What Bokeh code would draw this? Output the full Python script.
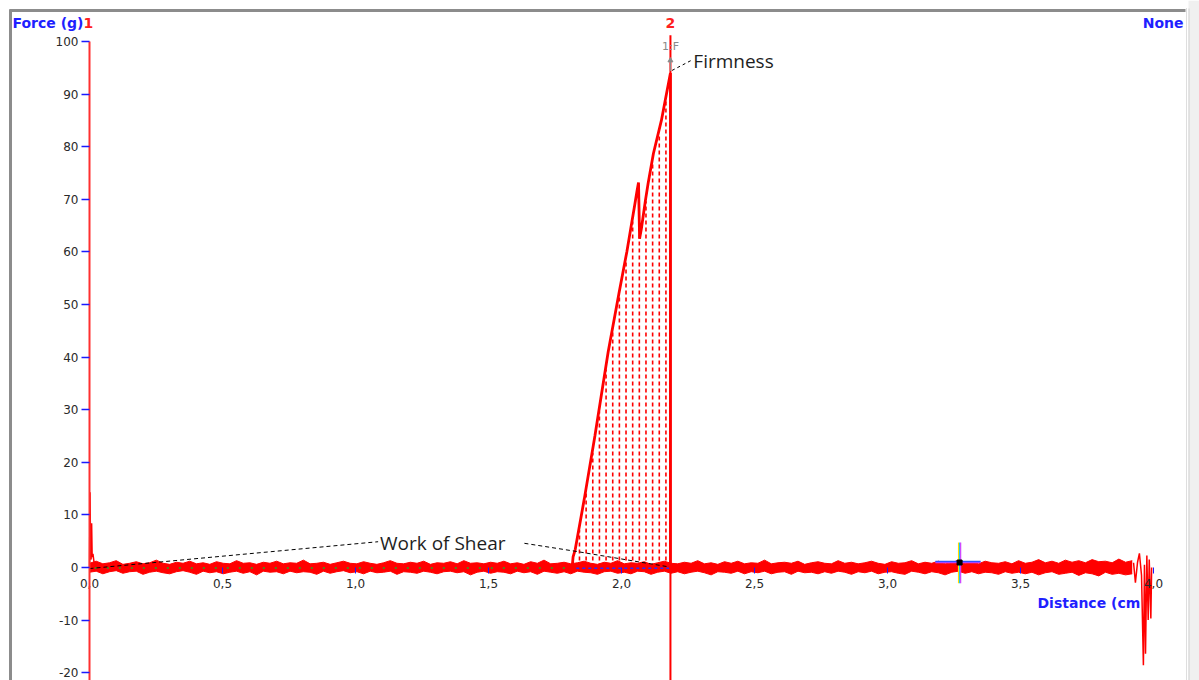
import numpy as np
from bokeh.plotting import figure
from bokeh.models import Range1d, FixedTicker, CustomJSTickFormatter
from bokeh.core.properties import value
from bokeh.embed import file_html
from bokeh.resources import INLINE

# ---- axis ticks ---------------------------------------------------------
x_ticks = [0.0, 0.5, 1.0, 1.5, 2.0, 2.5, 3.0, 3.5, 4.0]
y_ticks = [-20, -10, 0, 10, 20, 30, 40, 50, 60, 70, 80, 90, 100]

# ---- shear peak: distance (cm) vs force (g) -----------------------------
peak_x = [1.815, 1.818, 1.826, 1.86, 1.90, 1.95, 1.99, 2.02, 2.05, 2.058,
          2.064, 2.068, 2.075, 2.09, 2.10, 2.12, 2.15, 2.184, 2.184]
peak_y = [0.3, 2.0, 3.4, 13.0, 25.0, 41.0, 52.0, 60.0, 69.0, 71.5,
          73.2, 62.5, 64.5, 69.8, 73.0, 78.7, 85.0, 94.0, 0.0]

# contact spike at the start of the run
start_x = [0.0, 0.002, 0.004, 0.006, 0.008, 0.010, 0.013, 0.018]
start_y = [0.0, 14.3, 3.0, 1.5, 8.4, 2.0, 2.6, 0.6]

# end-of-travel spikes
end_x = [3.925, 3.932, 3.94, 3.947, 3.955, 3.962, 3.966, 3.970, 3.975,
         3.980, 3.984, 3.990, 3.993]
end_y = [0.9, -2.9, 1.0, 2.7, -1.5, -18.6, 0.5, -16.4, 2.3,
         -10.0, 1.5, -9.7, 0.0]

# baseline noise envelope (g), 0 .. 3.92 cm
noise_hi = [0.8, 1.2, 0.7, 0.9, 1.3, 0.6, 0.8, 1.1, 0.7, 0.9, 1.4, 0.8, 0.6, 1.0, 0.8, 1.2, 0.7, 0.9, 0.6, 1.1,
            0.8, 0.7, 1.3, 0.8, 0.9, 0.6, 1.0, 0.8, 1.2, 0.7, 0.9, 0.8, 1.4, 0.7, 0.8, 1.0, 0.6, 0.9, 1.2, 0.8,
            0.7, 1.1, 0.8, 0.6, 0.9, 1.3, 0.8, 0.7, 1.0, 0.8, 1.2, 0.6, 0.9, 0.8, 1.1, 0.7, 1.3, 0.8, 0.9, 0.7,
            1.0, 0.8, 1.2, 0.7, 0.9, 0.6, 1.1, 0.8, 1.4, 0.7, 0.8, 1.0, 0.7, 0.9, 1.2, 0.8, 0.6, 1.0, 0.8, 1.3,
            0.7, 0.9, 0.8, 1.1, 0.6, 0.9, 1.2, 0.8, 0.7, 1.0, 0.8, 1.3, 0.7, 0.9, 0.6, 1.1, 0.8, 1.2, 0.7, 0.9,
            0.8, 1.4, 0.7, 0.9, 1.0, 0.8, 1.2, 0.6, 0.9, 1.1, 0.8, 0.7, 1.3, 0.8, 1.0, 0.7, 0.9, 1.2, 0.8, 0.6,
            1.1, 0.8, 0.9, 1.3, 0.7, 1.0, 0.8, 1.2, 0.7, 0.9, 1.4, 0.8, 1.0, 0.7, 1.2, 0.9, 0.8, 1.1, 0.7, 1.3,
            0.8, 1.0, 1.5, 0.9, 1.2, 0.8, 1.4, 1.0, 1.3, 0.9, 1.5, 1.1, 1.2, 0.9, 1.6, 1.0, 1.3]
noise_lo = [-0.9, -0.7, -1.2, -0.8, -0.6, -1.1, -0.8, -0.7, -1.3, -0.9, -0.7, -1.0, -1.2, -0.8, -0.6, -0.9, -1.3, -0.7, -1.0, -0.8,
            -1.2, -0.9, -0.7, -1.1, -0.8, -1.4, -0.7, -0.9, -0.8, -1.2, -0.7, -1.0, -0.8, -0.9, -1.3, -0.7, -1.1, -0.8, -0.6, -1.0,
            -0.8, -1.2, -0.7, -1.0, -0.9, -0.7, -1.3, -0.8, -0.9, -1.1, -0.7, -0.9, -1.2, -0.8, -0.7, -1.0, -0.8, -1.4, -0.9, -0.7,
            -1.1, -0.8, -0.9, -1.2, -0.7, -1.0, -0.8, -1.3, -0.7, -0.9, -1.1, -0.8, -1.2, -0.7, -0.9, -1.0, -1.3, -0.8, -0.7, -1.1,
            -0.9, -1.2, -0.7, -0.8, -1.3, -0.9, -0.7, -1.1, -0.8, -1.2, -0.9, -0.7, -1.0, -1.4, -0.8, -0.9, -1.1, -0.7, -1.2, -0.8,
            -1.0, -0.7, -1.2, -0.9, -0.8, -1.3, -0.7, -1.0, -0.9, -1.2, -0.8, -1.1, -0.7, -0.9, -1.3, -0.8, -1.0, -0.7, -1.2, -0.9,
            -0.8, -1.1, -1.3, -0.7, -0.9, -1.2, -0.8, -1.0, -1.4, -0.9, -0.7, -1.1, -0.8, -1.2, -0.9, -1.0, -1.3, -0.8, -1.1, -0.9,
            -1.2, -0.9, -1.4, -1.0, -0.8, -1.3, -1.1, -0.9, -1.5, -1.0, -1.2, -1.6, -0.9, -1.3, -1.1, -1.4, -1.2]
noise_x = np.linspace(0.0, 3.92, len(noise_hi))

# ---- screen geometry ----------------------------------------------------
W, H = 1199, 680
X0_PX, PX_PER_X = 89, 266.0      # x = 0 sits 89 px from the left edge
Y0_PX, PX_PER_Y = 567, 5.26      # y = 0 sits 567 px from the top


def xd(px):
    return (px - X0_PX) / PX_PER_X


def yd(py):
    return (Y0_PX - py) / PX_PER_Y


p = figure(width=W, height=H, output_backend="svg", toolbar_location=None,
           x_range=Range1d(xd(0), xd(W)), y_range=Range1d(yd(H), yd(0)),
           min_border=0, outline_line_color=None,
           background_fill_color="white", border_fill_color="white")
p.grid.visible = False

# axes crossing at the origin
xa = p.xaxis[0]
xa.fixed_location = 0
xa.ticker = FixedTicker(ticks=x_ticks)
xa.formatter = CustomJSTickFormatter(code="return tick.toFixed(1).replace('.', ',')")
xa.bounds = (0, 4.0)
xa.axis_line_color = None
xa.major_tick_line_color = "#1a1aff"
xa.major_tick_in = 0
xa.major_tick_out = 6
xa.minor_tick_line_color = None
xa.major_label_standoff = 5
xa.major_label_text_font = "DejaVu Sans"
xa.major_label_text_font_size = "12px"
xa.major_label_text_color = "#2a2a2a"

ya = p.yaxis[0]
ya.fixed_location = 0
ya.ticker = FixedTicker(ticks=y_ticks)
ya.formatter = CustomJSTickFormatter(code="return String(tick)")
ya.bounds = (yd(H), 100)
ya.axis_line_color = "#ff3030"
ya.axis_line_width = 2
ya.major_tick_line_color = "#1a1aff"
ya.major_tick_line_width = 1.5
ya.major_tick_in = 0
ya.major_tick_out = 8
ya.minor_tick_line_color = None
ya.major_label_standoff = 3
ya.major_label_text_font = "DejaVu Sans"
ya.major_label_text_font_size = "12px"
ya.major_label_text_color = "#2a2a2a"

# window frame
p.segment(x0=[xd(10)], y0=[yd(9)], x1=[xd(10)], y1=[yd(H)],
          line_color="#8c8c8c", line_width=3)
p.segment(x0=[xd(9)], y0=[yd(10)], x1=[xd(1185)], y1=[yd(10)],
          line_color="#8c8c8c", line_width=3)
p.quad(left=[xd(1188)], right=[xd(W)], bottom=[yd(H)], top=[yd(0)],
       fill_color="#f0f0f0", line_color=None)
p.segment(x0=[xd(1186)], y0=[yd(8)], x1=[xd(1186)], y1=[yd(H)],
          line_color="#bdbdbd", line_width=1, line_dash="1 1")
p.segment(x0=[xd(1188.5)], y0=[yd(8)], x1=[xd(1188.5)], y1=[yd(H)],
          line_color="#d0d0d0", line_width=1)

# work-of-shear area: vertical dashed hatch under the peak
curve_x = np.array(peak_x[:-1])
curve_y = np.array(peak_y[:-1])
hx = np.arange(1.842, 2.18, 0.025)
htop = np.interp(hx, curve_x, curve_y) - 0.8
p.segment(x0=hx, y0=np.zeros_like(hx), x1=hx, y1=htop,
          line_color="red", line_width=1.6, line_dash="4 3")

# baseline noise band
p.varea(x=noise_x, y1=noise_lo, y2=noise_hi, fill_color="red")
p.line(noise_x, noise_hi, line_color="red", line_width=1)
p.line(noise_x, noise_lo, line_color="red", line_width=1)

# area baseline and tracking dots
p.line([1.83, 2.18], [-0.15, -0.15], line_color="#2a2aff", line_width=1.5,
       line_dash="3 3")
p.line([0.02, 1.80], [-0.1, -0.1], line_color="#22aa22", line_width=1.5,
       line_dash="2 10")

# force trace
p.line(peak_x, peak_y, line_color="red", line_width=2.8)
p.line(start_x, start_y, line_color="red", line_width=1.5)
p.line(end_x, end_y, line_color="red", line_width=1.5)

# cursor 2
p.segment(x0=[2.184], y0=[101.2], x1=[2.184], y1=[yd(H)],
          line_color="red", line_width=2)

# crosshair marker
cx, cy = 3.271, 0.95
p.segment(x0=[3.18, 3.18], y0=[cy, cy + 0.2], x1=[3.35, 3.35], y1=[cy, cy + 0.2],
          line_color=["#d040ff", "#3050ff"], line_width=1.5)
p.segment(x0=[cx - 0.004, cx, cx + 0.004], y0=[4.75, 4.75, 4.75],
          x1=[cx - 0.004, cx, cx + 0.004], y1=[-3.0, -3.0, -3.0],
          line_color=["#ffe000", "#20c0ff", "#d040ff"], line_width=1.2)
p.scatter([cx], [cy], marker="square", size=5, fill_color="black",
          line_color="black")

# firmness marker
p.segment(x0=[2.184], y0=[94.4], x1=[2.184], y1=[96.6],
          line_color="#8a8a8a", line_width=1.2)
p.scatter([2.184], [96.4], marker="triangle", size=5, fill_color="#8a8a8a",
          line_color="#8a8a8a")
p.text(x=[2.184], y=[99.1], text=["1:F"], text_font=value("DejaVu Sans"),
       text_font_size="11px", text_color="#8a8a8a",
       text_align="center", text_baseline="middle")

# annotation leaders
p.line([0.0, 1.085], [-0.2, 4.9], line_color="black", line_width=1,
       line_dash="4 3")
p.line([1.635, 1.825, 2.18], [4.6, 3.1, 0.1], line_color="black",
       line_width=1, line_dash="4 3")
p.line([2.19, 2.262], [94.5, 96.4], line_color="black", line_width=1,
       line_dash="3 3")

label_font = value("Open Sans")
p.text(x=[1.092], y=[4.75], text=["Work of Shear"], text_font=label_font,
       text_font_size="19px", text_color="#1e1e1e",
       text_align="left", text_baseline="middle")
p.text(x=[2.27], y=[96.3], text=["Firmness"], text_font=label_font,
       text_font_size="19px", text_color="#1e1e1e",
       text_align="left", text_baseline="middle")

# header and axis captions
bold = value("bold")
head_font = value("DejaVu Sans")
p.text(x=[xd(12)], y=[yd(22)], text=["Force (g)"], text_font=head_font,
       text_font_style=bold, text_font_size="14px", text_color="#1f1fff",
       text_align="left", text_baseline="middle")
p.text(x=[xd(83)], y=[yd(22)], text=["1"], text_font=head_font,
       text_font_style=bold, text_font_size="14px", text_color="#ff2020",
       text_align="left", text_baseline="middle")
p.text(x=[2.184], y=[yd(22)], text=["2"], text_font=head_font,
       text_font_style=bold, text_font_size="14px", text_color="#ff2020",
       text_align="center", text_baseline="middle")
p.text(x=[xd(1183)], y=[yd(22)], text=["None"], text_font=head_font,
       text_font_style=bold, text_font_size="14px", text_color="#1f1fff",
       text_align="right", text_baseline="middle")
p.text(x=[xd(1037)], y=[yd(602)], text=["Distance (cm"], text_font=head_font,
       text_font_style=bold, text_font_size="14px", text_color="#1f1fff",
       text_align="left", text_baseline="middle")

open("out.html", "w").write(file_html(p, INLINE))
